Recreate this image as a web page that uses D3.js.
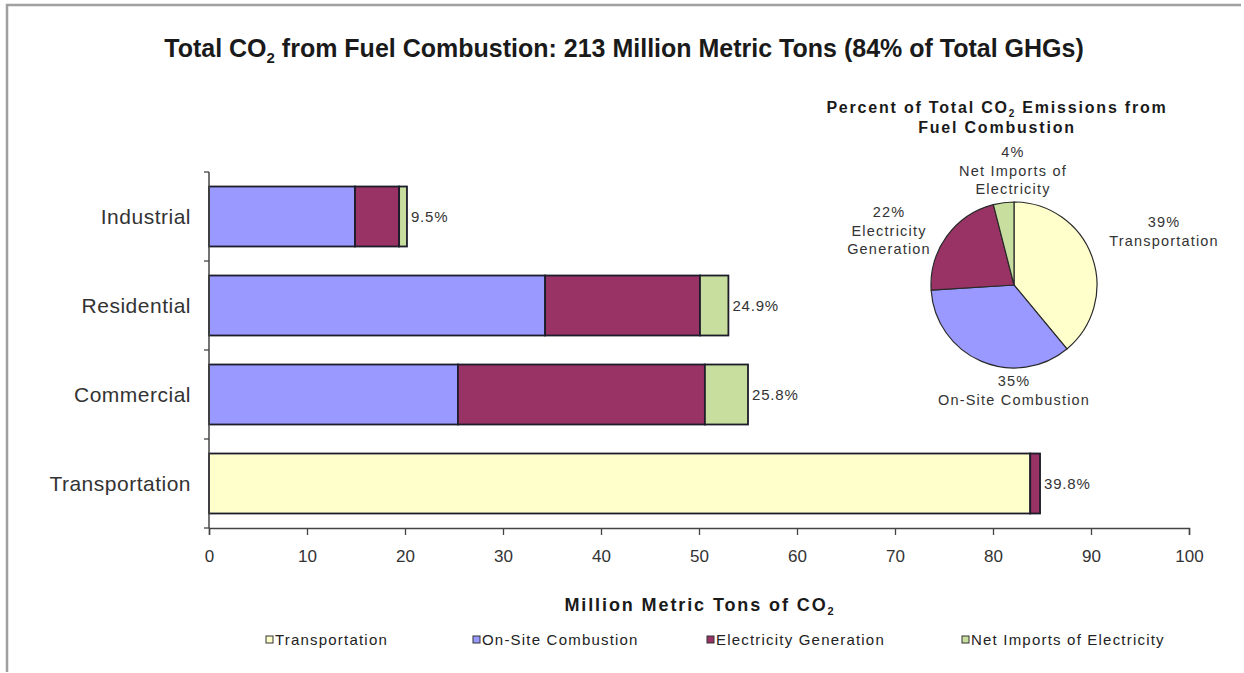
<!DOCTYPE html>
<html>
<head>
<meta charset="utf-8">
<script src="https://cdn.jsdelivr.net/npm/d3@7"></script>
<style>
  html, body { margin: 0; padding: 0; background: #fff; }
  svg { display: block; }
  text { font-family: "Liberation Sans", Arial, sans-serif; }
</style>
</head>
<body>
<svg id="chart" width="1244" height="673"></svg>
<script>
// Sectors shown as horizontal bars (million metric tons of CO2)
const categories = ["Industrial", "Residential", "Commercial", "Transportation"];
const transportation = [0, 0, 0, 83.8];
const onSiteCombustion = [14.9, 34.3, 25.4, 0];
const electricityGeneration = [4.5, 15.8, 25.2, 1.0];
const netImports = [0.8, 2.9, 4.4, 0];
const totalCO2 = 213;

const xTicks = [0, 10, 20, 30, 40, 50, 60, 70, 80, 90, 100];

// Pie: percent of total CO2 from fuel combustion, clockwise from 12 o'clock
const pieNames = ["Transportation", "On-Site Combustion", "Electricity Generation", "Net Imports of Electricity"];
const pieShares = [39, 35, 22, 4];

const seriesNames = ["Transportation", "On-Site Combustion", "Electricity Generation", "Net Imports of Electricity"];
const seriesValues = [transportation, onSiteCombustion, electricityGeneration, netImports];
const colors = ["#FFFFCC", "#9999FF", "#993366", "#C8DE9E"];

const svg = d3.select("#chart");

// outer frame (top and left edges)
svg.append("path")
  .attr("d", "M7,672 L7,5 L1241,5")
  .attr("fill", "none").attr("stroke", "#a0a0a0").attr("stroke-width", 2.5);

// main title
const title = svg.append("text")
  .attr("x", 624).attr("y", 57)
  .attr("text-anchor", "middle")
  .attr("font-family", "Lato, 'Open Sans', sans-serif")
  .attr("font-weight", 700)
  .attr("font-size", 25)
  .attr("fill", "#1a1a1a");
title.append("tspan").text("Total CO");
title.append("tspan").attr("font-size", 15).attr("dy", 6).text("2");
title.append("tspan").attr("dy", -6).text(" from Fuel Combustion:  213 Million Metric Tons (84% of Total GHGs)");

// scales
const x = d3.scaleLinear().domain([0, 100]).range([209, 1189]);
const y = d3.scaleBand().domain(categories).range([172, 528]).paddingInner(0.326).paddingOuter(0.163);

// stacked data
const rows = categories.map((c, i) => {
  const r = { category: c };
  seriesNames.forEach((s, j) => { r[s] = seriesValues[j][i]; });
  return r;
});
const stack = d3.stack().keys(seriesNames);
const layers = stack(rows);

const barG = svg.append("g");
layers.forEach((layer, li) => {
  barG.selectAll(null)
    .data(layer.filter(d => d[1] - d[0] > 0))
    .join("rect")
    .attr("x", d => x(d[0]))
    .attr("y", d => y(d.data.category))
    .attr("width", d => x(d[1]) - x(d[0]))
    .attr("height", y.bandwidth())
    .attr("fill", colors[li])
    .attr("stroke", "#1c1c2a")
    .attr("stroke-width", 1.8);
});

// value labels: share of total at the bar end
const totals = rows.map(r => d3.sum(seriesNames, s => r[s]));
svg.append("g").selectAll("text")
  .data(rows)
  .join("text")
  .attr("x", (d, i) => x(totals[i]) + 4)
  .attr("y", d => y(d.category) + y.bandwidth() / 2)
  .attr("dy", "0.35em")
  .attr("font-size", 15)
  .attr("letter-spacing", 0.8)
  .attr("fill", "#333")
  .text((d, i) => d3.format(".1f")(totals[i] / totalCO2 * 100) + "%");

// x axis
const xAxis = svg.append("g").attr("transform", "translate(0,528)")
  .call(d3.axisBottom(x).tickValues(xTicks).tickSize(7).tickPadding(15).tickFormat(d3.format("d")));
xAxis.select(".domain").attr("stroke", "#444").attr("stroke-width", 1.5);
xAxis.selectAll(".tick line").attr("stroke", "#444").attr("stroke-width", 1.3);
xAxis.selectAll(".tick text")
  .attr("font-family", "'Liberation Sans', Arial, sans-serif")
  .attr("font-size", 17).attr("fill", "#333");

// y axis: line with ticks at category boundaries
const yG = svg.append("g");
yG.append("line")
  .attr("x1", x(0)).attr("x2", x(0))
  .attr("y1", y.range()[0]).attr("y2", y.range()[1])
  .attr("stroke", "#444").attr("stroke-width", 1.5);
const bounds = categories.map(c => y(c) - y.step() * y.paddingInner() / 2);
bounds.push(y.range()[1]);
yG.selectAll("line.tk")
  .data(bounds)
  .join("line").attr("class", "tk")
  .attr("x1", x(0) - 5).attr("x2", x(0))
  .attr("y1", d => d).attr("y2", d => d)
  .attr("stroke", "#444").attr("stroke-width", 1.3);
yG.selectAll("text")
  .data(categories)
  .join("text")
  .attr("x", 191)
  .attr("y", d => y(d) + y.bandwidth() / 2)
  .attr("dy", "0.35em")
  .attr("text-anchor", "end")
  .attr("font-size", 21)
  .attr("letter-spacing", 0.5)
  .attr("fill", "#333")
  .text(d => d);

// x axis title
const xt = svg.append("text")
  .attr("x", 700).attr("y", 611)
  .attr("text-anchor", "middle")
  .attr("font-weight", "bold")
  .attr("font-size", 18)
  .attr("letter-spacing", 1.9)
  .attr("fill", "#1a1a1a");
xt.append("tspan").text("Million Metric Tons of CO");
xt.append("tspan").attr("font-size", 11).attr("dy", 4).text("2");

// legend
const legendX = [270, 477, 711, 966];
const lg = svg.append("g").selectAll("g")
  .data(seriesNames)
  .join("g")
  .attr("transform", (d, i) => `translate(${legendX[i]},640)`);
lg.append("rect")
  .attr("x", -4).attr("y", -4).attr("width", 7).attr("height", 7)
  .attr("fill", (d, i) => colors[i])
  .attr("stroke", "#333").attr("stroke-width", 1);
lg.append("text")
  .attr("x", 5).attr("dy", "0.35em")
  .attr("font-size", 15)
  .attr("letter-spacing", 1.2)
  .attr("fill", "#222")
  .text(d => d);

// pie chart
const pieCx = 1014, pieCy = 285, pieR = 83;
const pieG = svg.append("g").attr("transform", `translate(${pieCx},${pieCy})`);
const pie = d3.pie().sort(null).value(d => d)(pieShares);
const arc = d3.arc().innerRadius(0).outerRadius(pieR);
pieG.selectAll("path")
  .data(pie)
  .join("path")
  .attr("d", arc)
  .attr("fill", (d, i) => colors[i])
  .attr("stroke", "#2a2a2a")
  .attr("stroke-width", 1.2);

// pie title
const pt = svg.append("g").attr("font-family", "'Liberation Sans', Arial, sans-serif")
  .attr("font-weight", "bold").attr("font-size", 16).attr("letter-spacing", 1.8).attr("fill", "#1a1a1a");
const pt1 = pt.append("text").attr("x", 997).attr("y", 113).attr("text-anchor", "middle");
pt1.append("tspan").text("Percent of Total CO");
pt1.append("tspan").attr("font-size", 10).attr("dy", 4).text("2");
pt1.append("tspan").attr("dy", -4).text(" Emissions from");
pt.append("text").attr("x", 997).attr("y", 133).attr("text-anchor", "middle").text("Fuel Combustion");

// pie labels (percent over name, name split on lines)
const pieLabelLines = [
  ["Transportation"],
  ["On-Site Combustion"],
  ["Electricity", "Generation"],
  ["Net Imports of", "Electricity"]
];
const pieLabelAnchor = [[150, -63], [0, 96], [-125, -73], [-1, -133]];
const pl = pieG.selectAll("g.lbl")
  .data(pie)
  .join("g").attr("class", "lbl")
  .attr("transform", (d, i) => `translate(${pieLabelAnchor[i][0]},${pieLabelAnchor[i][1]})`);
pl.each(function (d, i) {
  const g = d3.select(this);
  const lines = [d.data + "%"].concat(pieLabelLines[i]);
  g.selectAll("text")
    .data(lines)
    .join("text")
    .attr("y", (t, k) => k * 18.5)
    .attr("dy", "0.35em")
    .attr("text-anchor", "middle")
    .attr("font-size", 14.5)
    .attr("letter-spacing", 1.2)
    .attr("fill", "#333")
    .text(t => t);
});
</script>
</body>
</html>
